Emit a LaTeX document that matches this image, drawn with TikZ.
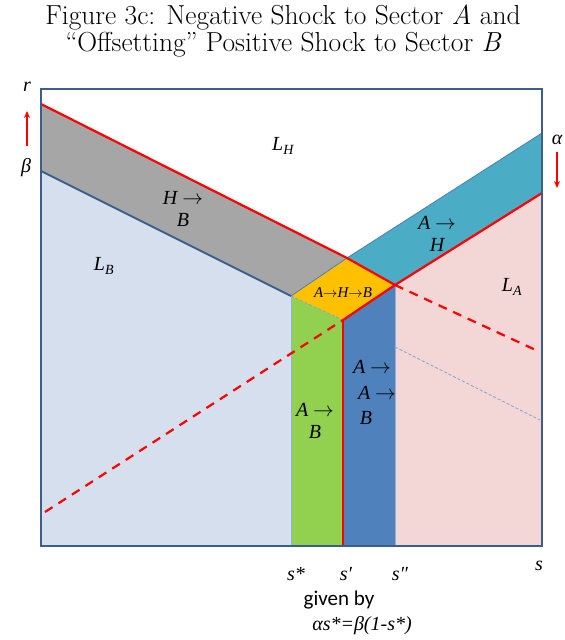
\documentclass[tikz,border=0pt]{standalone}
\usepackage{fontspec}
\usetikzlibrary{arrows.meta}
\newfontfamily\tnr{Liberation Serif}
\newfontfamily\calfont{Carlito}
\definecolor{frameblue}{HTML}{3B5E8C}
\definecolor{thinblue}{HTML}{4A7EBB}
\definecolor{grayband}{HTML}{A6A6A6}
\definecolor{lightblue}{HTML}{D5DFEE}
\definecolor{tealc}{HTML}{4BACC6}
\definecolor{orangec}{HTML}{FFC000}
\definecolor{greenc}{HTML}{92D050}
\definecolor{bluec}{HTML}{4F81BD}
\definecolor{pinkc}{HTML}{F2D7D6}
\definecolor{redc}{HTML}{FF0000}
\newcommand{\rarr}{\ensuremath{\rightarrow}}
\tikzset{
  lbl/.style={font=\tnr\itshape\fontsize{20}{22}\selectfont, inner sep=0pt},
  redline/.style={redc, line width=2.2pt},
  reddash/.style={redc, line width=2.2pt, dash pattern=on 9pt off 7pt},
  betaline/.style={frameblue, line width=2pt},
  alphaline/.style={thinblue, line width=0.8pt},
  thindash/.style={thinblue!70, line width=0.8pt, dash pattern=on 3pt off 2pt},
  redarrow/.style={redc, line width=1.6pt, -{Stealth[length=7pt,width=6pt]}}
}
\begin{document}
\begin{tikzpicture}[x=1pt,y=-1pt]
\useasboundingbox (0,0) rectangle (565,640);
\fill[white] (0,0) rectangle (565,640);
% key coordinates
\coordinate (TL) at (41,89);
\coordinate (BR) at (542,546);
\coordinate (rb0) at (41,104);
\coordinate (bb0) at (41,171);
\coordinate (L) at (291,296);
\coordinate (T) at (347,258);
\coordinate (R) at (395,285);
\coordinate (M) at (343,320);
\coordinate (a1) at (542,133);
\coordinate (a2) at (542,193);
\coordinate (rbe) at (540,352);
\coordinate (bbe) at (540,420);
\coordinate (ra0) at (45,512);
\coordinate (Lb) at (291,546);
\coordinate (Mb) at (343,546);
\coordinate (Rb) at (395,546);
\coordinate (bb1) at (395,347);
% regions
\fill[lightblue] (bb0) -- (L) -- (Lb) -- (41,546) -- cycle;
\fill[grayband] (rb0) -- (T) -- (L) -- (bb0) -- cycle;
\fill[tealc] (T) -- (a1) -- (a2) -- (R) -- cycle;
\fill[orangec] (L) -- (T) -- (R) -- (M) -- cycle;
\fill[greenc] (L) -- (M) -- (Mb) -- (Lb) -- cycle;
\fill[bluec] (M) -- (R) -- (Rb) -- (Mb) -- cycle;
\fill[pinkc] (R) -- (a2) -- (BR) -- (Rb) -- cycle;
% lines
\draw[thindash] (L) -- (M);
\draw[thindash] (bb1) -- (bbe);
\draw[thinblue!60, line width=0.8pt] (L) -- (Lb);
\draw[thinblue!60, line width=0.8pt] (R) -- (Rb);
\draw[alphaline] (L) -- (T) -- (a1);
\draw[betaline] (bb0) -- (L);
\draw[reddash] (ra0) -- (M);
\draw[reddash] (R) -- (rbe);
\draw[redline] (rb0) -- (T) -- (R);
\draw[redline] (M) -- (R) -- (a2);
\draw[redline] (M) -- (Mb);
% frame
\draw[frameblue, line width=2.2pt] (TL) rectangle (BR);
% title
\node[font=\fontsize{27.5}{30}\selectfont, inner sep=0pt] (t1) at (283,17) {Figure 3c: Negative Shock to Sector {\itshape A} and};
\node[font=\fontsize{27.5}{30}\selectfont, inner sep=0pt] (t2) at (283,45) {“Offsetting” Positive Shock to Sector {\itshape B}};
% axis labels
\node[lbl] (r) at (27,87) {r};
\node[lbl] (beta) at (26,168) {β};
\node[lbl] (alpha) at (557,140) {α};
\coordinate (ua0) at (27,146);
\coordinate (ua1) at (27,111);
\draw[redarrow] (ua0) -- (ua1);
\coordinate (da0) at (557,152);
\coordinate (da1) at (557,188);
\draw[redarrow] (da0) -- (da1);
% region labels
\node[lbl] (LH) at (283,146) {L\textsubscript{H}};
\node[lbl] (LB) at (104,266) {L\textsubscript{B}};
\node[lbl] (LA) at (512,287) {L\textsubscript{A}};
\node[lbl, align=center] (HB) at (183,209) {H \rarr\\B};
\node[lbl, align=center] (AH) at (437,234) {A \rarr\\H};
\node[lbl, font=\tnr\itshape\fontsize{15}{16}\selectfont] (AHB) at (343,293) {A\rarr H\rarr B};
\node[lbl, align=center] (AB1) at (315,421) {A \rarr\\B};
\node[lbl] (AB2a) at (372,367) {A \rarr};
\node[lbl] (AB2b) at (377,393) {A \rarr};
\node[lbl] (AB2c) at (366,418) {B};
% bottom labels
\node[lbl] (ss) at (296,574) {s*};
\node[lbl] (sp) at (346,574) {s′};
\node[lbl] (spp) at (400,574) {s″};
\node[lbl] (s) at (539,566) {s};
\node[font=\calfont\fontsize{21}{24}\selectfont, inner sep=0pt] (gb) at (339,600) {given by};
\node[lbl] (eq) at (362,626) {αs*=β(1-s*)};
\end{tikzpicture}
\end{document}
